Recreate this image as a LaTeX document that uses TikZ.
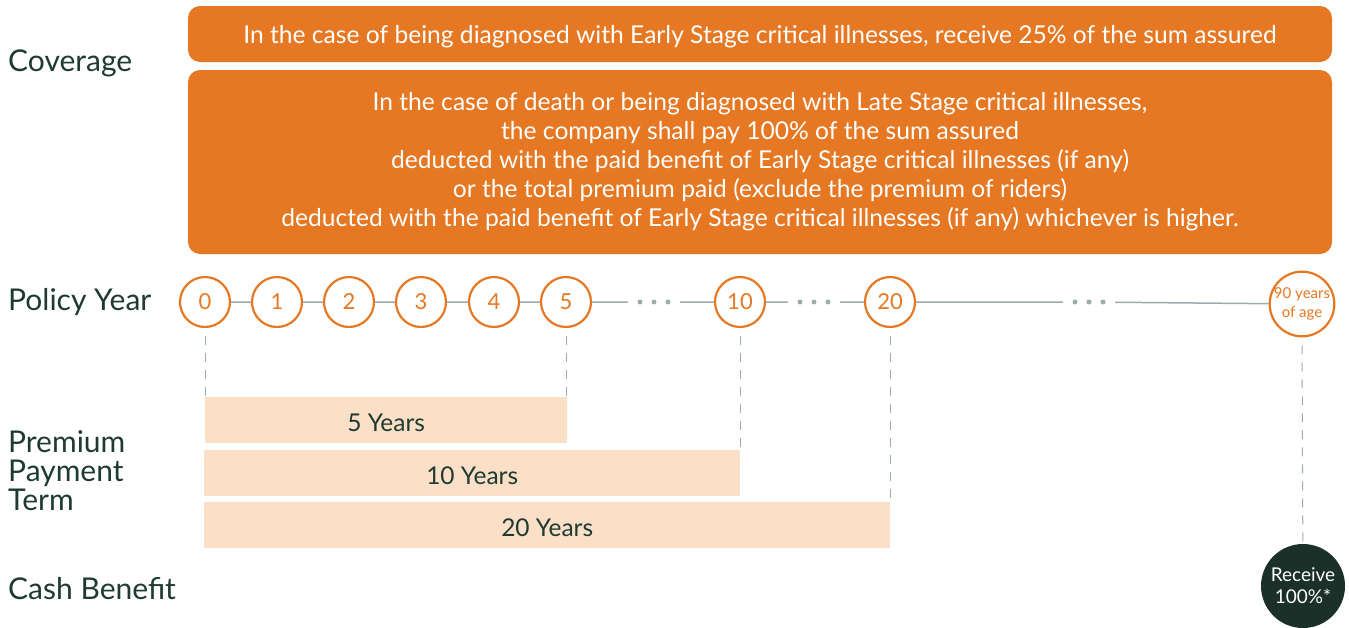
\documentclass[tikz,border=0pt]{standalone}
\usepackage{fontspec}
\setmainfont{Lato}
\usetikzlibrary{positioning}

\definecolor{brandorange}{HTML}{E67823}
\definecolor{peach}{HTML}{FCDFC7}
\definecolor{darkgreen}{HTML}{1B3029}
\definecolor{textgreen}{HTML}{1F3A31}
\definecolor{linegray}{HTML}{9EABAE}

\tikzset{
  rowlabel/.style={anchor=west, text=textgreen, font=\fontsize{30}{29}\selectfont, align=left, inner sep=0},
  coverbox/.style={fill=brandorange, rounded corners=12pt, text=white, font=\fontsize{24.6}{29}\selectfont, align=center, minimum width=1144pt},
  yearnode/.style={circle, draw=brandorange, line width=2.2pt, fill=white, minimum size=50pt, inner sep=0, text=brandorange, font=\fontsize{22}{24}\selectfont},
  termbar/.style={fill=peach, minimum height=46pt, anchor=north west, inner sep=0, text height=23.5pt, text depth=0pt, text=textgreen, font=\fontsize{24.5}{24}\selectfont},
  gapbox/.style={minimum width=52pt, minimum height=10pt, inner sep=0},
  guide/.style={linegray, line width=1pt, dash pattern=on 9pt off 8pt, shorten <=8pt},
  axis/.style={linegray, line width=1.5pt},
}

\begin{document}
\begin{tikzpicture}[x=1pt, y=-1pt]
\useasboundingbox (0,0) rectangle (1349,627);

% row labels
\node[rowlabel] (lblcover) at (8,63) {Coverage};
\node[rowlabel] (lblyear) at (8,302) {Policy Year};
\node[rowlabel] (lblterm) at (8,471) {Premium\\Payment\\Term};
\node[rowlabel] (lblcash) at (8,589) {Cash Benefit};

% coverage
\node[coverbox, minimum height=56pt, text depth=0pt] (early) at (760,34) {In the case of being diagnosed with Early Stage critical illnesses, receive 25\% of the sum assured};
\node[coverbox, minimum height=184pt] (late) at (760,162) {In the case of death or being diagnosed with Late Stage critical illnesses,\\
the company shall pay 100\% of the sum assured\\
deducted with the paid benefit of Early Stage critical illnesses (if any)\\
or the total premium paid (exclude the premium of riders)\\
deducted with the paid benefit of Early Stage critical illnesses (if any) whichever is higher.};

% policy years
\foreach \n/\x in {0/205,1/277,2/349,3/421,4/494,5/566}
  \node[yearnode] (y\n) at (\x,302) {\n};
\node[yearnode] (y10) at (740,302) {10};
\node[yearnode] (y20) at (890,302) {20};
\node[yearnode, minimum size=60pt, font=\fontsize{15}{19}\selectfont, align=center] (y90) at (1302,304) {90 years\\of age};

\node[gapbox] (gapA) at (654,302) {};
\node[gapbox] (gapB) at (814,302) {};
\node[gapbox] (gapC) at (1089,302) {};
\foreach \c in {gapA,gapB,gapC}
  \foreach \dx in {-14,0,14}
    \fill[linegray] ([xshift=\dx pt]\c) circle (2.5pt);

\draw[axis] (y0) -- (y1) -- (y2) -- (y3) -- (y4) -- (y5) -- (gapA) -- (y10) -- (gapB) -- (y20) -- (gapC) -- (y90);

% premium payment term
\node[termbar, minimum width=362pt] (bar5) at (205,397) {5 Years};
\node[termbar, minimum width=536pt] (bar10) at (204,450) {10 Years};
\node[termbar, minimum width=686pt] (bar20) at (204,502) {20 Years};

\draw[guide] (y0.south) -- (y0 |- bar5.north);
\draw[guide] (y5.south) -- (y5 |- bar5.north);
\draw[guide] (y10.south) -- (y10 |- bar10.north);
\draw[guide] (y20.south) -- (y20 |- bar20.north);

% cash benefit
\node[circle, fill=darkgreen, minimum size=84pt, inner sep=0, text=white, font=\fontsize{19}{22}\selectfont, align=center] (cash) at (1303,586) {Receive\\100\%*};
\draw[guide] (y90.south) -- (cash);
\end{tikzpicture}
\end{document}
